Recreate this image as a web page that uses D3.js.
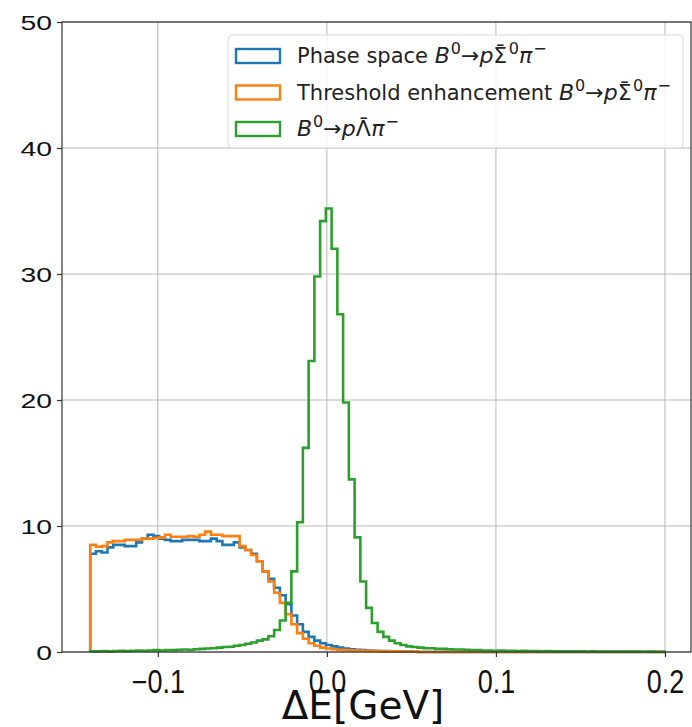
<!DOCTYPE html>
<html>
<head>
<meta charset="utf-8">
<script src="https://cdn.jsdelivr.net/npm/d3@7"></script>
<style>
	body { margin: 0; background: #fff; }
	svg { display: block; font-family: "DejaVu Sans", sans-serif; }
	.grid line { stroke: #b0b0b0; stroke-width: 0.9; }
	.axis path, .axis line { stroke: #333; stroke-width: 1.2; }
	.axis text { fill: #111; }
</style>
</head>
<body>
<svg id="chart" width="692" height="727"></svg>
<script>
/* global d3 */

// 100 bins from -0.14 to 0.2 GeV
const binStart = -0.14;
const binWidth = 0.0034;

const phaseSpace = [
	7.8, 8.0, 7.9, 8.3, 8.5, 8.5, 8.4, 8.4, 8.7, 9.0,
	9.3, 9.2, 9.0, 8.9, 8.8, 8.8, 8.9, 8.9, 8.9, 8.8,
	8.8, 9.0, 8.8, 8.5, 8.5, 8.7, 8.3, 8.1, 7.8, 7.2,
	6.4, 5.8, 5.1, 4.5, 3.8, 2.9, 2.2, 1.6, 1.2, 0.9,
	0.7, 0.55, 0.45, 0.35, 0.28, 0.22, 0.18, 0.15, 0.12, 0.1,
	0.08, 0.07, 0.06, 0.05, 0.04, 0.03, 0.02, 0, 0, 0,
	0, 0, 0, 0, 0, 0, 0, 0, 0, 0,
	0, 0, 0, 0, 0, 0, 0, 0, 0, 0,
	0, 0, 0, 0, 0, 0, 0, 0, 0, 0,
	0, 0, 0, 0, 0, 0, 0, 0, 0, 0
];

const threshold = [
	8.5, 8.35, 8.4, 8.7, 8.8, 8.8, 8.9, 8.9, 8.9, 9.0,
	9.0, 9.05, 9.1, 9.3, 9.15, 9.15, 9.15, 9.2, 9.15, 9.3,
	9.55, 9.3, 9.3, 9.2, 9.2, 9.2, 8.4, 8.1, 7.7, 7.2,
	6.4, 5.6, 4.7, 3.9, 3.0, 2.2, 1.5, 1.05, 0.7, 0.5,
	0.35, 0.28, 0.22, 0.18, 0.15, 0.13, 0.12, 0.1, 0.09, 0.08,
	0.07, 0.06, 0.05, 0.05, 0.04, 0.03, 0.03, 0, 0, 0,
	0, 0, 0, 0, 0, 0, 0, 0, 0, 0,
	0, 0, 0, 0, 0, 0, 0, 0, 0, 0,
	0, 0, 0, 0, 0, 0, 0, 0, 0, 0,
	0, 0, 0, 0, 0, 0, 0, 0, 0, 0
];

const lambdaPi = [
	0.05, 0.05, 0.08, 0.05, 0.08, 0.1, 0.08, 0.1, 0.12, 0.1,
	0.12, 0.15, 0.12, 0.15, 0.15, 0.18, 0.2, 0.18, 0.22, 0.25,
	0.28, 0.3, 0.35, 0.4, 0.42, 0.5, 0.55, 0.65, 0.75, 0.9,
	1.0, 1.25, 1.75, 2.5, 3.9, 6.4, 10.3, 16.2, 23.1, 29.8,
	34.2, 35.2, 32.0, 26.8, 19.8, 13.7, 9.1, 5.6, 3.5, 2.3,
	1.6, 1.2, 0.9, 0.7, 0.55, 0.45, 0.4, 0.35, 0.3, 0.3,
	0.25, 0.25, 0.22, 0.2, 0.2, 0.18, 0.15, 0.15, 0.12, 0.12,
	0.1, 0.12, 0.1, 0.1, 0.08, 0.1, 0.08, 0.08, 0.06, 0.08,
	0.06, 0.06, 0.05, 0.06, 0.05, 0.05, 0.04, 0.05, 0.04, 0.04,
	0.04, 0.03, 0.04, 0.03, 0.03, 0.03, 0.02, 0.03, 0.02, 0.02
];

const xTicks = [-0.1, 0.0, 0.1, 0.2];
const yTicks = [0, 10, 20, 30, 40, 50];

const series = [
	{ values: phaseSpace, color: '#1f77b4' },
	{ values: threshold, color: '#ff7f0e' },
	{ values: lambdaPi, color: '#2ca02c' },
];

// mathtext pieces: [text, kind]; kind: n normal, i italic, sup superscript, bar macron over previous glyph
const sigmaDecay = [['B', 'i'], ['0', 'sup'], ['\u2192', 'n'], ['p', 'i'], ['\u03a3', 'n'], ['\u00af', 'bar'], ['0', 'sup'], ['\u03c0', 'i'], ['\u2212', 'sup']];
const lambdaDecay = [['B', 'i'], ['0', 'sup'], ['\u2192', 'n'], ['p', 'i'], ['\u039b', 'n'], ['\u00af', 'bar'], ['\u03c0', 'i'], ['\u2212', 'sup']];

const legendRows = [
	{ color: '#1f77b4', label: 'Phase space ', math: sigmaDecay },
	{ color: '#ff7f0e', label: 'Threshold enhancement ', math: sigmaDecay },
	{ color: '#2ca02c', label: '', math: lambdaDecay },
];

const margin = { left: 62, top: 22, right: 691, bottom: 652 };

const svg = d3.select('#chart');

const x = d3.scaleLinear().domain([-0.1567, 0.2154]).range([margin.left, margin.right]);
const y = d3.scaleLinear().domain([0, 50]).range([margin.bottom, margin.top]);

// grid
const grid = svg.append('g').attr('class', 'grid');
grid.selectAll('.gx').data(xTicks).enter().append('line')
	.attr('x1', d => x(d)).attr('x2', d => x(d))
	.attr('y1', margin.top).attr('y2', margin.bottom);
grid.selectAll('.gy').data(yTicks).enter().append('line')
	.attr('x1', margin.left).attr('x2', margin.right)
	.attr('y1', d => y(d)).attr('y2', d => y(d));

// histograms
const edges = d3.range(phaseSpace.length + 1).map(i => binStart + i * binWidth);
const line = d3.line().x(d => x(d[0])).y(d => y(d[1])).curve(d3.curveStepAfter);

const stepPoints = values => {
	const pts = [[edges[0], 0]];
	values.forEach((v, i) => pts.push([edges[i], v]));
	pts.push([edges[values.length], values[values.length - 1]]);
	pts.push([edges[values.length], 0]);
	return pts;
};

svg.append('g').selectAll('path').data(series).enter().append('path')
	.attr('d', s => line(stepPoints(s.values)))
	.attr('fill', 'none')
	.attr('stroke', s => s.color)
	.attr('stroke-width', 2.6)
	.attr('stroke-linejoin', 'miter');

// axes
const xAxis = svg.append('g').attr('class', 'axis')
	.attr('transform', `translate(0,${margin.bottom})`)
	.call(d3.axisBottom(x).tickValues(xTicks).tickSize(5).tickPadding(6)
		.tickFormat(d => d3.format('.1f')(d).replace('-', '\u2212')));
xAxis.select('.domain').remove();
xAxis.selectAll('text')
	.attr('font-size', 27)
	.attr('y', 0).attr('dy', null)
	.attr('transform', 'translate(0,41) scale(1,1.2)');

const yAxis = svg.append('g').attr('class', 'axis')
	.attr('transform', `translate(${margin.left},0)`)
	.call(d3.axisLeft(y).tickValues(yTicks).tickSize(5).tickPadding(6));
yAxis.select('.domain').remove();
yAxis.selectAll('text')
	.attr('font-size', 21)
	.attr('x', 0).attr('dy', '0.36em')
	.attr('transform', 'translate(-10,0) scale(1.35,1)');

// spines
svg.append('rect')
	.attr('x', margin.left).attr('y', margin.top)
	.attr('width', margin.right - margin.left).attr('height', margin.bottom - margin.top)
	.attr('fill', 'none').attr('stroke', '#333').attr('stroke-width', 1.2);

svg.append('text')
	.attr('x', 363).attr('y', 719)
	.attr('text-anchor', 'middle')
	.attr('font-size', 39)
	.attr('fill', '#111')
	.text('\u0394E[GeV]');

// legend
const legend = svg.append('g').attr('transform', 'translate(228,35)');
legend.append('rect')
	.attr('width', 455).attr('height', 113).attr('rx', 4)
	.attr('fill', '#fff').attr('fill-opacity', 0.8)
	.attr('stroke', '#d9d9d9').attr('stroke-width', 1);

const offsets = { n: 0, i: 0, sup: -9, bar: -3 };

legendRows.forEach((row, i) => {
	const g = legend.append('g').attr('transform', `translate(0,${20 + i * 36.5})`);
	g.append('rect')
		.attr('x', 8).attr('y', -6).attr('width', 44).attr('height', 14)
		.attr('fill', 'none').attr('stroke', row.color).attr('stroke-width', 2.4);
	const t = g.append('text').attr('x', 69).attr('y', 8).attr('font-size', 21).attr('fill', '#222');
	if (row.label) { t.append('tspan').text(row.label); }
	let current = 0;
	let afterBar = false;
	row.math.forEach(([str, kind]) => {
		const ts = t.append('tspan').text(str).attr('font-size', kind === 'sup' ? 16 : 22);
		if (kind === 'i') { ts.attr('font-style', 'italic'); }
		const target = offsets[kind];
		if (target !== current) { ts.attr('dy', target - current); }
		current = target;
		let dx = kind === 'sup' ? 1 : 0;
		if (kind === 'bar') { dx = -12.5; }
		if (afterBar) { dx += 2; }
		if (dx) { ts.attr('dx', dx); }
		afterBar = kind === 'bar';
	});
});
</script>
</body>
</html>
